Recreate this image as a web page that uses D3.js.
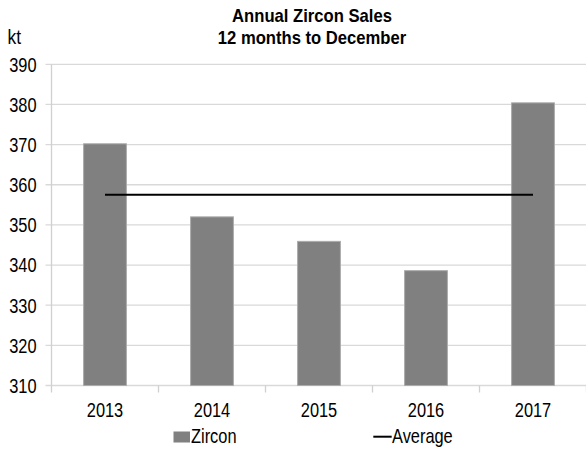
<!DOCTYPE html>
<html>
	<head>
		<meta charset="utf-8">
		<script src="https://d3js.org/d3.v7.min.js"></script>
		<style>
			body {
				margin: 0;
				background: #ffffff;
			}
			text {
				font-family: "Liberation Sans", Arial, sans-serif;
				font-size: 20.5px;
				fill: #000000;
			}
			.heading {
				font-size: 17.7px;
				font-weight: 700;
			}
		</style>
	</head>
	<body>
		<div class="svg-container"></div>
		<script type="text/javascript">
			// data
			var years = ['2013', '2014', '2015', '2016', '2017'];
			var zircon = [370.2, 352.0, 345.9, 338.6, 380.4];
			var average = [357.5, 357.5, 357.5, 357.5, 357.5];
			var yTicks = [310, 320, 330, 340, 350, 360, 370, 380, 390];
			var titleLines = ['Annual Zircon Sales', '12 months to December'];
			var legendItems = ['Zircon', 'Average'];

			var w = 586;
			var h = 453;

			var pLeft = 51.5; //plot edges
			var pRight = 586.5;
			var pTop = 64.3;
			var pBottom = 385.5;
			var sx = 0.8; //the labels are narrow

			var svg = d3.select('.svg-container').append('svg').attr('width', w).attr('height', h);

			//narrow text helper
			function narrow(sel, x, y, k) {
				return sel.attr('transform', function(d, i){
					var xx = typeof x === 'function' ? x(d, i) : x;
					var yy = typeof y === 'function' ? y(d, i) : y;
					return 'translate(' + xx + ',' + yy + ') scale(' + (k || sx) + ',1)';
				});
			}

			//scales
			var Xscale = d3.scaleBand().domain(years).range([pLeft, pRight]).paddingInner(0.6).paddingOuter(0.3);
			var Yscale = d3.scaleLinear().domain([310, 390]).range([pBottom, pTop]);
			var step = Xscale.step();
			var bw = Xscale.bandwidth();

			//gridlines
			svg.append('g').selectAll('line').data(yTicks).enter().append('line')
				.attr('x1', pLeft - 6).attr('x2', w)
				.attr('y1', function(d){ return Yscale(d); }).attr('y2', function(d){ return Yscale(d); })
				.attr('stroke', '#d9d9d9').attr('stroke-width', 1.3);

			//y axis line
			svg.append('line').attr('x1', pLeft).attr('x2', pLeft).attr('y1', pTop).attr('y2', pBottom)
				.attr('stroke', '#d0d0d0').attr('stroke-width', 1.3);

			//category ticks on the x axis
			var bounds = years.map(function(d){ return Xscale(d) + bw / 2 - step / 2; });
			bounds.push(bounds[bounds.length - 1] + step);
			svg.append('g').selectAll('line').data(bounds).enter().append('line')
				.attr('x1', function(d){ return d; }).attr('x2', function(d){ return d; })
				.attr('y1', pBottom).attr('y2', pBottom + 7)
				.attr('stroke', '#d0d0d0').attr('stroke-width', 1.3);

			//bars
			svg.append('g').selectAll('rect').data(zircon).enter().append('rect')
				.attr('x', function(d, i){ return Xscale(years[i]); })
				.attr('y', function(d){ return Yscale(d); })
				.attr('width', bw)
				.attr('height', function(d){ return Yscale(310) - Yscale(d); })
				.attr('fill', '#808080').attr('stroke', '#ababab').attr('stroke-width', 1);

			//average line
			var avgLine = d3.line()
				.x(function(d, i){ return Xscale(years[i]) + bw / 2; })
				.y(function(d){ return Yscale(d); });
			svg.append('path').attr('d', avgLine(average))
				.attr('fill', 'none').attr('stroke', '#000000').attr('stroke-width', 2);

			//y labels
			narrow(svg.append('g').selectAll('text').data(yTicks).enter().append('text'), 36.5, function(d){ return Yscale(d); })
				.attr('dy', '0.36em').attr('text-anchor', 'end')
				.text(function(d){ return d; });

			//x labels
			narrow(svg.append('g').selectAll('text').data(years).enter().append('text'), function(d){ return Xscale(d) + bw / 2; }, 416.7)
				.attr('text-anchor', 'middle')
				.text(function(d){ return d; });

			//unit
			narrow(svg.append('text'), 7.5, 44, 0.85).attr('font-size', '17.5px').text('kt');

			//heading
			narrow(svg.append('g').selectAll('text').data(titleLines).enter().append('text'), 312, function(d, i){ return 21.7 + i * 22.6; }, 0.94)
				.attr('class', 'heading').attr('text-anchor', 'middle').text(function(d){ return d; });

			//legend
			svg.append('rect').attr('x', 173.5).attr('y', 431.5).attr('width', 16.5).attr('height', 11).attr('fill', '#808080');
			narrow(svg.append('text'), 191, 443.3).text(legendItems[0]);
			svg.append('line').attr('x1', 373.3).attr('x2', 391.7).attr('y1', 436.7).attr('y2', 436.7).attr('stroke', '#000000').attr('stroke-width', 2);
			narrow(svg.append('text'), 392, 443.3).text(legendItems[1]);
		</script>
	</body>
</html>
